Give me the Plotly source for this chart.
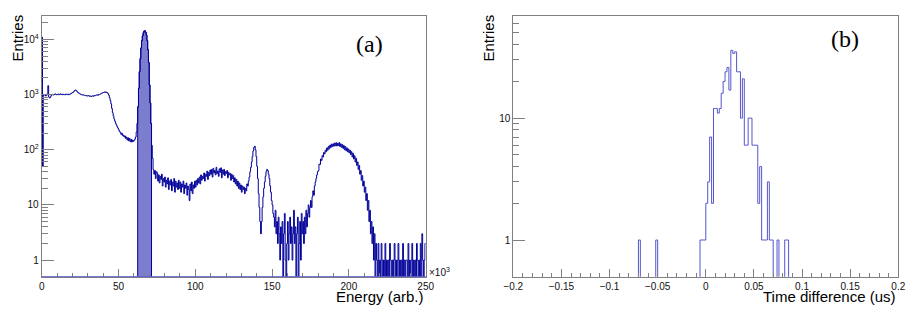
import math
import plotly.graph_objects as go

# ---------------- data: panel (a) energy spectrum ----------------
energy_start = 0.0          # x10^3
energy_bin_width = 0.5      # x10^3
energy_counts = [
    11000, 50, 960, 1000, 980, 940, 1010, 990, 1450, 900,
    870, 900, 960, 990, 1010, 980, 1000, 1030, 1010, 990,
    1000, 1020, 990, 1010, 1030, 1000, 1020, 990, 1010, 1000,
    990, 1020, 1010, 1000, 1020, 990, 1010, 1030, 1050, 1070,
    1090, 1120, 1160, 1200, 1210, 1170, 1120, 1090, 1060, 1040,
    1020, 1000, 990, 980, 990, 970, 960, 950, 960, 940,
    950, 960, 930, 940, 920, 940, 950, 930, 960, 950,
    970, 980, 990, 970, 1000, 1010, 1020, 1040, 1060, 1080,
    1090, 1100, 1120, 1090, 1110, 1080, 1040, 980, 880, 780,
    680, 560, 470, 410, 360, 330, 300, 280, 260, 245,
    230, 215, 205, 190, 200, 180, 185, 170, 178, 160,
    170, 150, 165, 145, 160, 140, 155, 138, 150, 142,
    148, 155, 170, 210, 300, 600, 1300, 2600, 4500, 7000,
    9500, 11500, 13200, 14200, 14300, 13500, 12000, 9500, 6500, 3800,
    1500, 700, 300, 120, 70, 44, 36, 42, 30, 40,
    38, 27, 35, 25, 33, 29, 36, 22, 30, 26,
    32, 21, 28, 24, 31, 19, 27, 23, 29, 18,
    26, 22, 30, 17, 27, 21, 25, 19, 28, 20,
    26, 17, 24, 21, 27, 16, 23, 20, 25, 15,
    22, 19, 12, 24, 18, 26, 16, 23, 20, 27,
    21, 28, 23, 30, 25, 32, 24, 35, 28, 33,
    30, 38, 27, 36, 33, 41, 29, 39, 34, 43,
    36, 44, 32, 46, 38, 42, 35, 48, 37, 41,
    33, 45, 39, 47, 31, 43, 36, 44, 34, 40,
    37, 42, 31, 39, 35, 37, 28, 36, 30, 34,
    26, 31, 24, 29, 22, 27, 20, 25, 19, 23,
    17, 22, 19, 21, 16, 20, 18, 24, 22, 27,
    32, 40, 48, 60, 75, 95, 110, 116, 100, 75,
    50, 30, 16, 9, 5, 3, 5, 9, 14, 20,
    26, 33, 40, 44, 42, 36, 30, 22, 17, 12,
    10, 7, 6, 4, 8, 3, 5, 2, 6, 3,
    1, 4, 2, 5, 0, 3, 7, 1, 0, 2,
    5, 1, 3, 6, 2, 4, 1, 3, 8, 2,
    4, 0, 3, 6, 0, 2, 5, 1, 7, 3,
    5, 2, 6, 3, 8, 4, 7, 10, 6, 9,
    12, 9, 14, 18, 15, 22, 26, 30, 35, 40,
    42, 55, 54, 68, 64, 78, 74, 89, 84, 98,
    92, 108, 98, 115, 104, 121, 110, 126, 114, 128,
    116, 132, 118, 134, 117, 131, 119, 135, 114, 128,
    111, 124, 106, 119, 100, 114, 96, 108, 92, 103,
    88, 98, 82, 92, 74, 86, 68, 78, 60, 70,
    52, 60, 44, 52, 36, 42, 28, 34, 22, 27,
    17, 21, 12, 16, 8, 12, 5, 8, 3, 5,
    2, 4, 1, 3, 0, 2, 1, 0, 2, 0,
    1, 0, 2, 1, 0, 1, 0, 2, 0, 1,
    0, 1, 0, 2, 1, 0, 1, 0, 1, 2,
    0, 1, 0, 1, 2, 0, 1, 0, 1, 0,
    2, 0, 1, 0, 1, 1, 0, 2, 0, 1,
    0, 1, 2, 0, 1, 0, 1, 0, 2, 1,
    0, 1, 0, 2, 0, 3, 1, 0, 1, 2,
]
peak_first_bin = 125   # selected photopeak bins (filled): 62.5 .. 71.5 x10^3
peak_last_bin = 142
energy_ticks = [0, 50, 100, 150, 200, 250]

# ---------------- data: panel (b) time difference ----------------
time_axis_min, time_axis_max = -0.2, 0.2
time_bin_width = 0.002
time_start = -0.072
time_counts = [
    0, 1, 0, 0, 0, 0, 0, 0, 0, 0,
    1, 0, 0, 0, 0, 0, 0, 0, 0, 0,
    0, 0, 0, 0, 0, 0, 0, 0, 0, 0,
    0, 0, 0, 1, 1, 1, 2, 3, 7, 2,
    12, 12, 11, 12, 16, 20, 24, 26, 17, 36,
    34, 35, 24, 24, 10, 21, 6, 6, 10, 10,
    6, 6, 6, 2, 4, 1, 1, 1, 3, 1,
    1, 0, 0, 1, 0, 0, 0, 1, 1, 0,
]

FLOOR = 0.1  # empty bins drawn below the visible log range

# ---------------- build step outlines ----------------
n_e = len(energy_counts)
e_edges = [energy_start + i * energy_bin_width for i in range(n_e + 1)]
e_y = [max(c, FLOOR) for c in energy_counts] + [max(energy_counts[-1], FLOOR)]

fill_x = [e_edges[peak_first_bin]]
fill_y = [FLOOR]
for i in range(peak_first_bin, peak_last_bin + 1):
    fill_x += [e_edges[i], e_edges[i + 1]]
    fill_y += [energy_counts[i], energy_counts[i]]
fill_x += [e_edges[peak_last_bin + 1]]
fill_y += [FLOOR]

n_t = int(round((time_axis_max - time_axis_min) / time_bin_width))
full_t = [0] * n_t
off = int(round((time_start - time_axis_min) / time_bin_width))
for i, c in enumerate(time_counts):
    full_t[off + i] = c
t_edges = [time_axis_min + i * time_bin_width for i in range(n_t + 1)]
t_y = [max(c, FLOOR) for c in full_t] + [max(full_t[-1], FLOOR)]

# ---------------- figure geometry ----------------
PAGE_OFF = 8                     # browser body margin
W, H = 915 - 2 * PAGE_OFF, 314 - 2 * PAGE_OFF

def px(x):
    return (x - PAGE_OFF) / W

def py(y):
    return 1 - (y - PAGE_OFF) / H

DARK = "#000099"
LIGHT = "rgb(85,85,205)"
GRAY = "#808080"

fig = go.Figure()
fig.add_trace(go.Scatter(x=fill_x, y=fill_y, mode="lines", fill="toself",
                         fillcolor="rgb(125,125,205)",
                         line=dict(color=DARK, width=1),
                         xaxis="x", yaxis="y", showlegend=False, hoverinfo="skip"))
fig.add_trace(go.Scatter(x=e_edges, y=e_y, mode="lines",
                         line=dict(color=DARK, width=1, shape="hv"),
                         xaxis="x", yaxis="y", showlegend=False))
fig.add_trace(go.Scatter(x=t_edges, y=t_y, mode="lines",
                         line=dict(color=LIGHT, width=1, shape="hv"),
                         xaxis="x2", yaxis="y2", showlegend=False))

def minor_log(lo, hi):
    vals = []
    for d in range(lo, hi + 1):
        for k in range(2, 10):
            vals.append(k * 10 ** d)
    return vals

tickfont = dict(family="Liberation Sans, Arial, sans-serif", size=10, color="#111111")
common = dict(showline=True, mirror=True, linecolor=GRAY, linewidth=1,
              ticks="inside", tickcolor=GRAY, tickwidth=1, showgrid=False,
              zeroline=False, tickfont=tickfont, automargin=False)

xa_lo, xa_hi = 41.7, 425.7
xb_lo, xb_hi = 513.3, 898.3
top_px, bot_px = 16.0, 276.7
ydom = [py(bot_px), py(top_px)]

fig.update_layout(
    width=W, height=H,
    margin=dict(l=0, r=0, t=0, b=0),
    paper_bgcolor="white", plot_bgcolor="white",
    xaxis=dict(domain=[px(xa_lo), px(xa_hi)], range=[0, 250], anchor="y",
               tickmode="array", tickvals=energy_ticks,
               ticktext=[str(v) for v in energy_ticks], ticklen=8,
               minor=dict(ticks="inside", ticklen=4, tickcolor=GRAY, dtick=10, tick0=0, showgrid=False),
               **common),
    yaxis=dict(domain=ydom, type="log", range=[math.log10(0.5), 4.424], anchor="x",
               tickmode="array", tickvals=[1, 10, 100, 1000, 10000],
               ticktext=["1", "10", "10<sup>2</sup>", "10<sup>3</sup>", "10<sup>4</sup>"],
               ticklen=12,
               minor=dict(ticks="inside", ticklen=6, tickcolor=GRAY, tickmode="array",
                          tickvals=minor_log(0, 4), showgrid=False),
               **common),
    xaxis2=dict(domain=[px(xb_lo), px(xb_hi)], range=[time_axis_min, time_axis_max], anchor="y2",
                tickmode="linear", tick0=-0.2, dtick=0.05, ticklen=8,
                minor=dict(ticks="inside", ticklen=4, tickcolor=GRAY, dtick=0.01, tick0=-0.2, showgrid=False),
                **common),
    yaxis2=dict(domain=ydom, type="log", range=[math.log10(0.5), 1.838], anchor="x2",
                tickmode="array", tickvals=[1, 10], ticktext=["1", "10"], ticklen=12,
                minor=dict(ticks="inside", ticklen=6, tickcolor=GRAY, tickmode="array",
                           tickvals=minor_log(0, 1), showgrid=False),
                **common),
)

# blue baseline along bottom of panel (a)
fig.add_shape(type="line", xref="x domain", yref="y domain", x0=0, x1=1, y0=0, y1=0,
              line=dict(color="rgb(90,90,200)", width=1))

lab = dict(family="Liberation Sans, Arial, sans-serif", size=15, color="black")
serif = dict(family="Liberation Serif, Times New Roman, serif", size=24, color="black")
ann = [
    dict(text="Entries", x=px(17), y=py(38.5), xanchor="center", yanchor="middle", textangle=-90, font=lab),
    dict(text="Entries", x=px(488), y=py(38.5), xanchor="center", yanchor="middle", textangle=-90, font=lab),
    dict(text="Energy (arb.)", x=px(xa_hi), y=py(296), xanchor="right", yanchor="middle", font=lab),
    dict(text="Time difference (us)", x=px(xb_hi), y=py(296), xanchor="right", yanchor="middle", font=lab),
    dict(text="(a)", x=px(369), y=py(44), xanchor="center", yanchor="middle", font=serif),
    dict(text="(b)", x=px(845), y=py(39), xanchor="center", yanchor="middle", font=serif),
    dict(text="×10<sup>3</sup>", x=px(427), y=py(272), xanchor="left", yanchor="middle",
         font=dict(family="Liberation Sans, Arial, sans-serif", size=10, color="#111111")),
]
for a in ann:
    a.update(xref="paper", yref="paper", showarrow=False)
fig.update_layout(annotations=ann)

fig.write_html("out.html")
